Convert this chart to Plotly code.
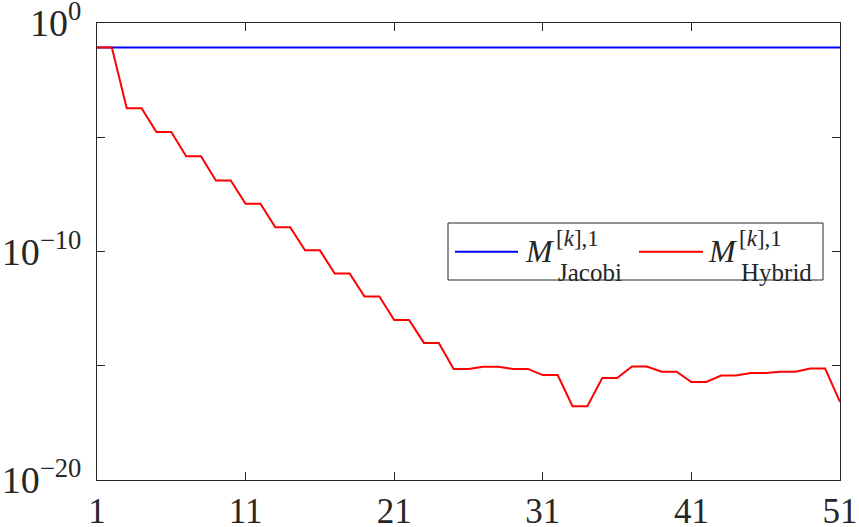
import plotly.graph_objects as go

iterations = list(range(1, 52))
jacobi_log10 = [-1.07] * 51
hybrid_log10 = [-1.07, -1.07, -3.73, -3.73, -4.77, -4.77, -5.83, -5.83, -6.89, -6.89,
                -7.91, -7.91, -8.94, -8.94, -9.95, -9.95, -10.96, -10.96, -11.97, -11.97,
                -13.0, -13.0, -14.0, -14.0, -15.14, -15.14, -15.04, -15.04, -15.14, -15.14,
                -15.41, -15.41, -16.77, -16.77, -15.54, -15.54, -15.03, -15.03, -15.26, -15.26,
                -15.71, -15.71, -15.43, -15.43, -15.32, -15.32, -15.26, -15.26, -15.12, -15.12,
                -16.58]
jacobi = [10 ** v for v in jacobi_log10]
hybrid = [10 ** v for v in hybrid_log10]

x_ticks = [1, 11, 21, 31, 41, 51]
y_tickvals = [1e0, 1e-5, 1e-10, 1e-15, 1e-20]
y_ticktext = ["10<sup>0</sup>", " ", "10<sup>\u221210</sup>", " ", "10<sup>\u221220</sup>"]

FONT = "'Liberation Serif', 'DejaVu Serif', serif"
AXIS_COLOR = "#262626"
W, H = 859, 527
L, R, T, B = 97, 19, 23, 47
PW, PH = W - L - R, H - T - B

def px(xp):
    return (xp - L) / PW

def py(yp):
    return (H - B - yp) / PH

fig = go.Figure()
fig.add_trace(go.Scatter(x=iterations, y=jacobi, mode="lines", name="M Jacobi",
                         line=dict(color="#0000FF", width=2), showlegend=False))
fig.add_trace(go.Scatter(x=iterations, y=hybrid, mode="lines", name="M Hybrid",
                         line=dict(color="#FF0000", width=2), showlegend=False))

axis_common = dict(showline=True, linewidth=1, mirror="allticks",
                   ticks="inside", ticklen=8, showgrid=False,
                   linecolor=AXIS_COLOR, tickcolor=AXIS_COLOR,
                   zeroline=False, automargin=False, ticklabeloverflow="allow")

fig.update_xaxes(range=[1, 51], tickvals=x_ticks,
                 tickfont=dict(family=FONT, size=35, color=AXIS_COLOR), **axis_common)
fig.update_yaxes(type="log", range=[-20, 0], tickvals=y_tickvals, ticktext=y_ticktext,
                 tickfont=dict(family=FONT, size=38, color=AXIS_COLOR),
                 ticklabelstandoff=7, **axis_common)

# legend box
shapes = [
    dict(type="rect", xref="paper", yref="paper", x0=px(448), x1=px(823), y0=py(280), y1=py(223),
         line=dict(color=AXIS_COLOR, width=1), fillcolor="white", layer="above"),
    dict(type="line", xref="paper", yref="paper", x0=px(455), x1=px(518), y0=py(251.7), y1=py(251.7),
         line=dict(color="#0000FF", width=2), layer="above"),
    dict(type="line", xref="paper", yref="paper", x0=px(639), x1=px(703), y0=py(251.7), y1=py(251.7),
         line=dict(color="#FF0000", width=2), layer="above"),
]
annotations = []
for mx, sub in [(523, "Jacobi"), (706, "Hybrid")]:
    annotations.append(dict(xref="paper", yref="paper", x=px(mx), y=py(251), xanchor="left",
                            yanchor="middle", showarrow=False, text="<i>M</i>",
                            font=dict(family=FONT, size=32, color=AXIS_COLOR)))
    annotations.append(dict(xref="paper", yref="paper", x=px(mx + 31), y=py(238), xanchor="left",
                            yanchor="middle", showarrow=False, text="[<i>k</i>],1",
                            font=dict(family=FONT, size=23, color=AXIS_COLOR)))
    annotations.append(dict(xref="paper", yref="paper", x=px(mx + 33), y=py(272), xanchor="left",
                            yanchor="middle", showarrow=False, text=sub,
                            font=dict(family=FONT, size=25, color=AXIS_COLOR)))

fig.update_layout(width=W, height=H, margin=dict(l=L, r=R, t=T, b=B),
                  paper_bgcolor="white", plot_bgcolor="white",
                  shapes=shapes, annotations=annotations, showlegend=False)

fig.write_html("out.html", config={"displayModeBar": False},
               post_script="document.body.style.margin='0';document.body.style.overflow='hidden';")
